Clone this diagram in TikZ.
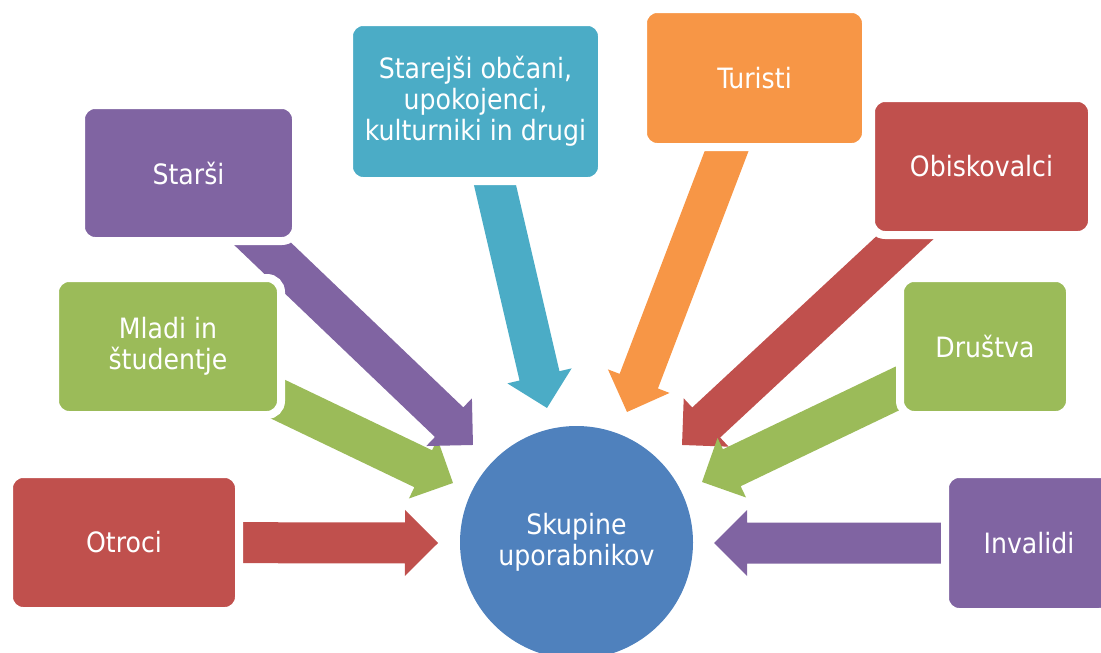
\documentclass[tikz,border=0pt]{standalone}
\usepackage{fontspec}
\setmainfont{DejaVu Sans Condensed}
\usepackage{tikz}
\usetikzlibrary{calc,backgrounds}
\definecolor{RedColor}{HTML}{C0504D}
\definecolor{GreenColor}{HTML}{9BBB59}
\definecolor{PurpleColor}{HTML}{8064A2}
\definecolor{TealColor}{HTML}{4BACC6}
\definecolor{OrangeColor}{HTML}{F79646}
\definecolor{BlueColor}{HTML}{4F81BD}
% block arrow from the centre of a group box to its tip
\newcommand{\grouparrow}[3]{%
  \fill[#3] let \p1=($(#2)-(#1.center)$), \n1={atan2(\y1,\x1)}, \n2={veclen(\x1,\y1)} in
    [shift={(#1.center)}, rotate=\n1]
    (0pt,-20.5pt) -- (\n2-33pt,-20.5pt) -- (\n2-33pt,-33pt) -- (\n2,0pt)
    -- (\n2-33pt,33pt) -- (\n2-33pt,20.5pt) -- (0pt,20.5pt) -- cycle;}

\begin{document}
\begin{tikzpicture}[x=1pt, y=-1pt, font=\fontsize{28}{31}\selectfont,
    group/.style={draw=white, line width=8pt, rounded corners=14pt, text=white, align=center, inner sep=0pt}]
  \useasboundingbox (0,0) rectangle (1101,653);
  \clip (0,0) rectangle (1101,653);
  \node[group, fill=RedColor, minimum width=230pt, minimum height=137pt] (otroci) at (124,542.5) {Otroci};
  \node[group, fill=GreenColor, minimum width=226pt, minimum height=137pt] (mladi) at (168,346.5) {Mladi in\\študentje};
  \node[group, fill=PurpleColor, minimum width=215pt, minimum height=136pt] (starsi) at (188.5,173) {Starši};
  \node[group, fill=TealColor, minimum width=253pt, minimum height=159pt] (starejsi) at (475.5,101.5) {Starejši občani,\\upokojenci,\\kulturniki in drugi};
  \node[group, fill=OrangeColor, minimum width=223pt, minimum height=138pt] (turisti) at (754.5,78) {Turisti};
  \node[group, fill=RedColor, minimum width=221pt, minimum height=137pt] (obiskovalci) at (981.5,166.5) {Obiskovalci};
  \node[group, fill=GreenColor, minimum width=170pt, minimum height=137pt] (drustva) at (985,346.5) {Društva};
  \node[group, fill=PurpleColor, minimum width=168pt, minimum height=138pt] (invalidi) at (1029,543) {Invalidi};
  \node[circle, fill=BlueColor, minimum size=233pt, inner sep=0pt, text=white, align=center] (skupine) at (576.5,542.5) {Skupine\\uporabnikov};

  \coordinate (otroci-t) at (438,543);
  \coordinate (mladi-t) at (453,483);
  \coordinate (starsi-t) at (473,445);
  \coordinate (starejsi-t) at (547,408);
  \coordinate (turisti-t) at (627,412);
  \coordinate (obiskovalci-t) at (682,445);
  \coordinate (drustva-t) at (702,482);
  \coordinate (invalidi-t) at (714,543);

  \begin{scope}[on background layer]
    \grouparrow{otroci}{otroci-t}{RedColor}
    \grouparrow{mladi}{mladi-t}{GreenColor}
    \grouparrow{starsi}{starsi-t}{PurpleColor}
    \grouparrow{starejsi}{starejsi-t}{TealColor}
    \grouparrow{turisti}{turisti-t}{OrangeColor}
    \grouparrow{obiskovalci}{obiskovalci-t}{RedColor}
    \grouparrow{drustva}{drustva-t}{GreenColor}
    \grouparrow{invalidi}{invalidi-t}{PurpleColor}
  \end{scope}
\end{tikzpicture}
\end{document}
